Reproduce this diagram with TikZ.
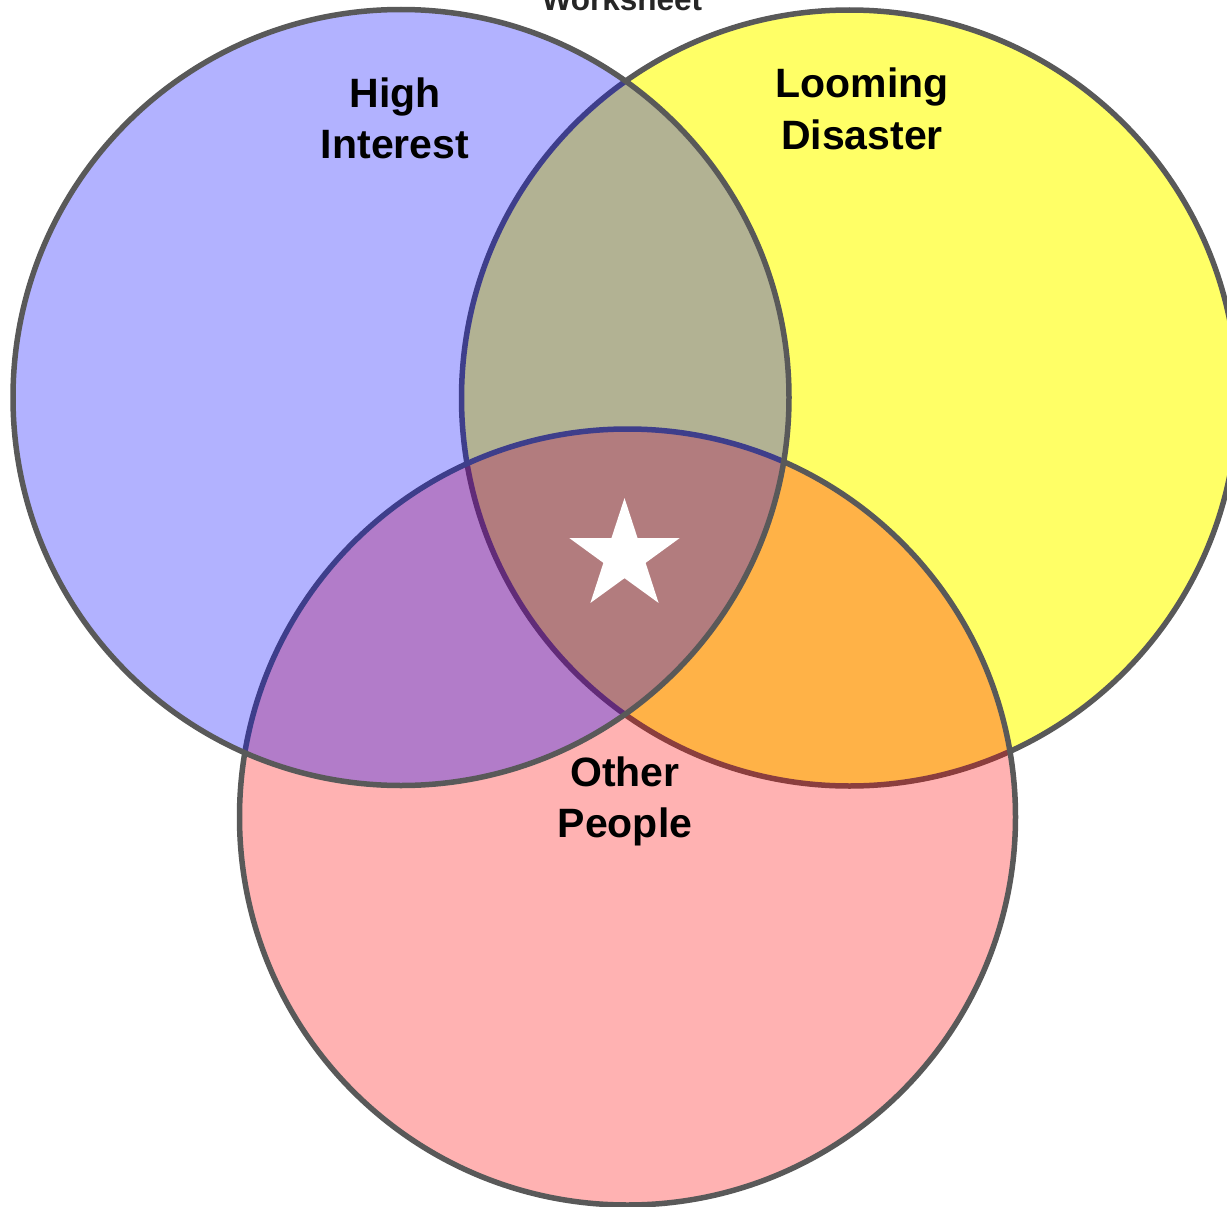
\documentclass[tikz,border=0pt]{standalone}
\usepackage{fontspec}
\setmainfont{Liberation Sans}
\definecolor{ringgray}{HTML}{595959}
\definecolor{titlegray}{HTML}{262626}
\begin{document}
\begin{tikzpicture}[x=1pt,y=-1pt,
  ring/.style={circle, minimum size=776pt, inner sep=0pt, draw=ringgray, line width=5.5pt, fill opacity=#1},
  lbl/.style={anchor=base, inner sep=0pt, font=\fontsize{41}{48}\selectfont\bfseries, text=black, text opacity=1},
]
\useasboundingbox (0,0) rectangle (1227,1207);
% draw order: yellow, pink, blue (translucent fills over earlier strokes)
\node[ring=0.6, fill={rgb,255:red,255;green,255;blue,0}] (yellow) at (849.5,398) {};
\node[ring=0.3, fill={rgb,255:red,255;green,0;blue,0}] (pink) at (627.5,817) {};
\node[ring=0.3, fill={rgb,255:red,0;green,0;blue,255}] (blue) at (401,397.5) {};
% title
\node[anchor=base, inner sep=0pt, font=\fontsize{31.5}{36}\selectfont\bfseries, text=titlegray] (title) at (622,11) {Worksheet};
% labels
\node[lbl] (hi1) at (395,107) {High};
\node[lbl] (hi2) at (395,158) {Interest};
\node[lbl] (ld1) at (862,98) {Looming};
\node[lbl] (ld2) at (862,149) {Disaster};
\node[lbl] (op1) at (625,786) {Other};
\node[lbl] (op2) at (625,837) {People};
% star
\coordinate (starc) at (624.5,556);
\fill[white] (starc) +(90:58pt) -- +(126:22.2pt) -- +(162:58pt) -- +(198:22.2pt) -- +(234:58pt)
  -- +(270:22.2pt) -- +(306:58pt) -- +(342:22.2pt) -- +(18:58pt) -- +(54:22.2pt) -- cycle;
\end{tikzpicture}
\end{document}
